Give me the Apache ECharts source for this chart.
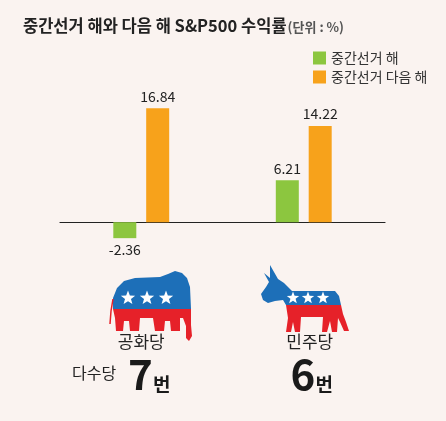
<!DOCTYPE html>
<html>
<head>
<meta charset="utf-8">
<script src="https://cdn.jsdelivr.net/npm/echarts@6/dist/echarts.min.js"></script>
<style>
  html, body { margin: 0; padding: 0; background: #faf3f0; }
  #main { width: 446px; height: 421px; }
</style>
</head>
<body>
<div id="main"></div>
<script>
// 데이터
var parties = ['공화당', '민주당'];
var seriesNames = ['중간선거 해', '중간선거 다음 해'];
var midtermYear = [-2.36, 6.21];
var nextYear = [16.84, 14.22];
var majorityTimes = [7, 6];

var font = '"Noto Sans CJK KR", "Noto Sans", sans-serif';

// 별 모양 꼭짓점
function starPoints(cx, cy, r) {
    var pts = [];
    for (var i = 0; i < 10; i++) {
        var a = -Math.PI / 2 + i * Math.PI / 5;
        var rr = i % 2 ? r * 0.42 : r;
        pts.push([cx + rr * Math.cos(a), cy + rr * Math.sin(a)]);
    }
    return pts;
}

function barData(values) {
    return values.map(function (v) {
        return {value: v, label: {position: v < 0 ? 'bottom' : 'top'}};
    });
}

var blue = '#1d6fb8', red = '#e62129';

var graphics = [
    // 코끼리
    {type: 'polygon', silent: true, shape: {points: [[113,309],[113,298],[117,288],[124,281],[135,278],[160,277],[168,274],[175,271],[182,273],[187,278],[190,287],[191,309]]}, style: {fill: blue}},
    {type: 'polygon', silent: true, shape: {points: [[113,309],[191,309],[191,325],[192,336],[189,341],[186,338],[186,326],[183,318],[180,318],[180,331],[171,331],[170,321],[165,321],[164,331],[155,331],[153,318],[140,318],[139,331],[130,331],[129,321],[124,321],[123,331],[116,331],[115,318]]}, style: {fill: red}},
    {type: 'polyline', silent: true, shape: {points: [[113,299],[111,311],[110,324]]}, style: {stroke: red, lineWidth: 1.5, fill: null}},
    // 당나귀
    {type: 'polygon', silent: true, shape: {points: [[270,265],[278,279],[284,283],[292,291],[335,291],[339,296],[341,305],[286,305],[283,300],[275,301],[268,303],[263,300],[261,294],[266,287],[269,282],[264,273],[270,278]]}, style: {fill: blue}},
    {type: 'polygon', silent: true, shape: {points: [[286,305],[341,305],[343,314],[346,322],[349,331],[344,331],[340,322],[338,318],[337,332],[332,332],[330,321],[327,332],[322,332],[323,317],[301,317],[300,332],[295,332],[293,322],[291,332],[286,332],[288,318]]}, style: {fill: red}},
    {type: 'text', left: 72, top: 365, silent: true, style: {text: '다수당', font: '16px ' + font, fill: '#222'}}
];
[[128, 298, 7.5], [147, 298, 7.5], [166, 298, 7.5], [293, 298, 6.5], [308, 298, 6.5], [323, 298, 6.5]].forEach(function (s) {
    graphics.push({type: 'polygon', silent: true, shape: {points: starPoints(s[0], s[1], s[2])}, style: {fill: '#fff'}});
});

var myChart = echarts.init(document.getElementById('main'));
var option = {
    backgroundColor: '#faf3f0',
    color: ['#8cc63f', '#f7a21b'],
    title: {
        text: '{a|중간선거 해와 다음 해 S&P500 수익률}{b|(단위 : %)}',
        left: 18,
        top: 12,
        textStyle: {
            rich: {
                a: {fontSize: 16.5, fontWeight: 'bold', color: '#222', fontFamily: font},
                b: {fontSize: 13, color: '#555', fontFamily: font, padding: [3, 0, 0, 1]}
            }
        }
    },
    legend: {
        data: seriesNames,
        orient: 'vertical',
        left: 313,
        top: 51,
        padding: 0,
        itemWidth: 13,
        itemHeight: 13,
        itemGap: 5,
        icon: 'rect',
        textStyle: {fontSize: 14, color: '#333', fontFamily: font}
    },
    grid: {left: 60, right: 61, top: 87, bottom: 165, outerBoundsMode: 'none'},
    xAxis: {
        type: 'category',
        data: parties,
        axisLine: {onZero: true, lineStyle: {color: '#222', width: 1.2}},
        axisTick: {show: false},
        axisLabel: {
            margin: 74,
            interval: 0,
            formatter: function (v, i) {
                var s = i === 1 ? 'r' : 'l';
                return '{p' + s + '|' + v + '}\n{n|' + majorityTimes[i] + '}{u|번}';
            },
            rich: {
                pl: {fontSize: 17, color: '#222', fontFamily: font, lineHeight: 24},
                pr: {fontSize: 17, color: '#222', fontFamily: font, lineHeight: 24, padding: [0, 0, 0, 12]},
                n: {fontSize: 42, fontWeight: 'bold', color: '#1a1a1a', fontFamily: font, lineHeight: 40, padding: [0, 0, 0, 16]},
                u: {fontSize: 19, fontWeight: 'bold', color: '#1a1a1a', fontFamily: font, lineHeight: 22, verticalAlign: 'bottom'}
            }
        }
    },
    yAxis: {
        type: 'value',
        min: -5,
        max: 20,
        show: false,
        splitLine: {show: false}
    },
    series: [
        {
            name: seriesNames[0],
            type: 'bar',
            barWidth: 23,
            barGap: '43%',
            data: barData(midtermYear),
            label: {show: true, fontSize: 14, color: '#222', fontFamily: font}
        },
        {
            name: seriesNames[1],
            type: 'bar',
            barWidth: 23,
            data: barData(nextYear),
            label: {show: true, fontSize: 14, color: '#222', fontFamily: font}
        }
    ],
    graphic: graphics
};
myChart.setOption(option);
</script>
</body>
</html>
